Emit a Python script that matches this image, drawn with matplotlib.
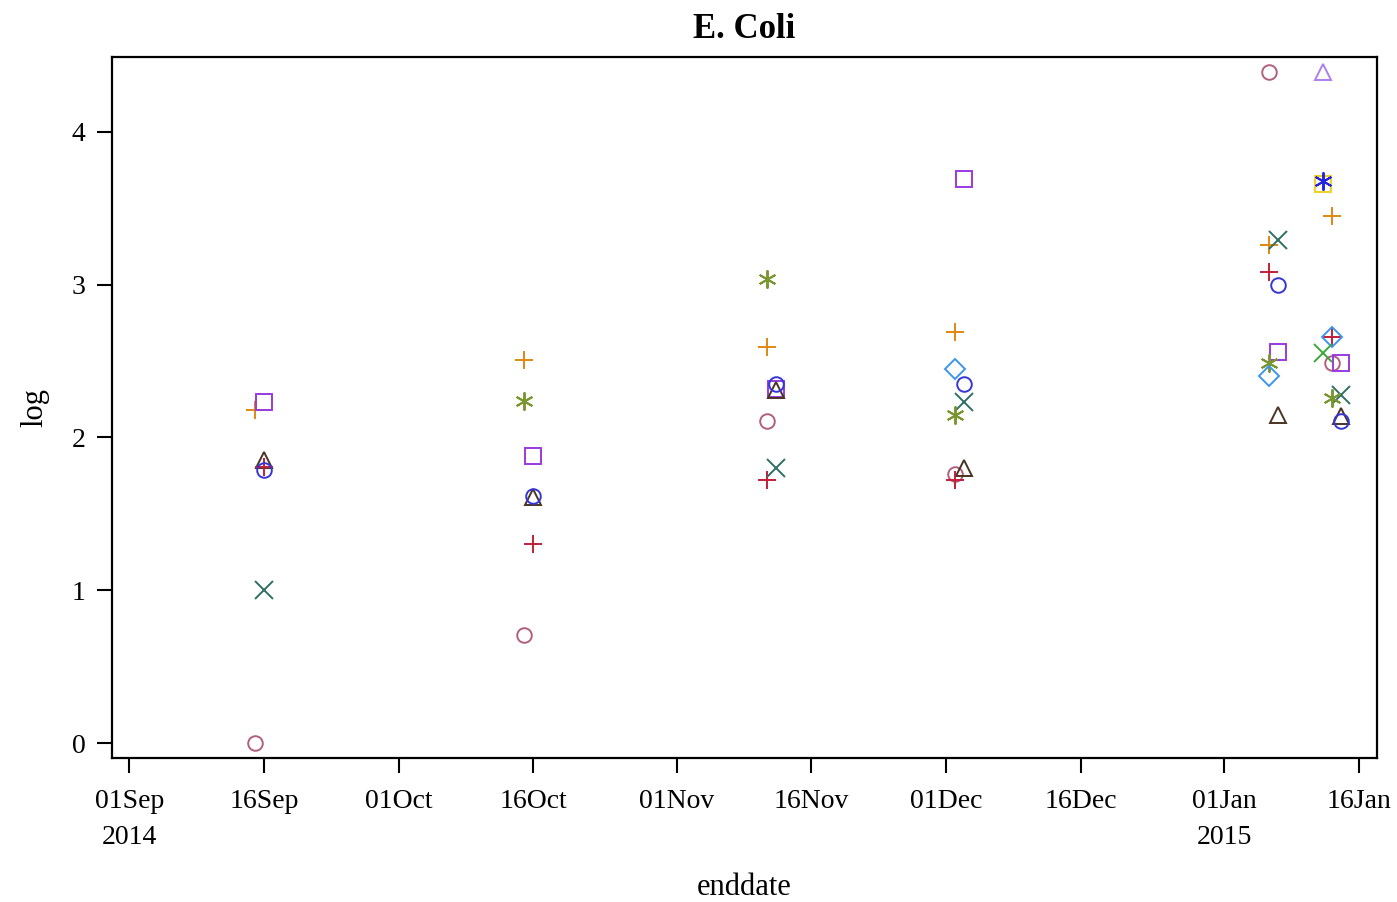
import matplotlib
matplotlib.use('Agg')
import matplotlib.pyplot as plt
import datetime as dt

plt.rc('font', family='Liberation Serif')

def d(s):
    return dt.datetime.strptime(s, '%Y-%m-%d')

# one entry per group (site)
mauve_dates = ['2014-09-15', '2014-10-15', '2014-11-11', '2014-12-02', '2015-01-06', '2015-01-13']
mauve_vals = [0.0, 0.71, 2.11, 1.76, 4.39, 2.49]
orange_dates = ['2014-09-15', '2014-10-15', '2014-11-11', '2014-12-02', '2015-01-06', '2015-01-13']
orange_vals = [2.18, 2.51, 2.59, 2.69, 3.26, 3.45]
purple_dates = ['2014-09-16', '2014-10-16', '2014-11-12', '2014-12-03', '2015-01-07', '2015-01-14']
purple_vals = [2.23, 1.88, 2.32, 3.69, 2.56, 2.49]
brown_dates = ['2014-09-16', '2014-10-16', '2014-11-12', '2014-12-03', '2015-01-07', '2015-01-14']
brown_vals = [1.85, 1.61, 2.31, 1.80, 2.15, 2.14]
red_dates = ['2014-09-16', '2014-10-16', '2014-11-11', '2014-12-02', '2015-01-06', '2015-01-13']
red_vals = [1.81, 1.30, 1.72, 1.72, 3.08, 2.66]
blue_dates = ['2014-09-16', '2014-10-16', '2014-11-12', '2014-12-03', '2015-01-07', '2015-01-14']
blue_vals = [1.79, 1.62, 2.35, 2.35, 3.00, 2.11]
teal_dates = ['2014-09-16', '2014-11-12', '2014-12-03', '2015-01-07', '2015-01-14']
teal_vals = [1.0, 1.80, 2.23, 3.29, 2.28]
olive_dates = ['2014-10-15', '2014-11-11', '2014-12-02', '2015-01-06', '2015-01-13']
olive_vals = [2.24, 3.04, 2.15, 2.49, 2.26]
ltblue_dates = ['2014-12-02', '2015-01-06', '2015-01-13']
ltblue_vals = [2.45, 2.40, 2.66]
yellow_dates = ['2015-01-12']
yellow_vals = [3.66]
bluestar_dates = ['2015-01-12']
bluestar_vals = [3.68]
ltpurple_dates = ['2015-01-12']
ltpurple_vals = [4.39]
green_dates = ['2015-01-12']
green_vals = [2.55]

tick_dates = ['2014-09-01', '2014-09-16', '2014-10-01', '2014-10-16', '2014-11-01',
              '2014-11-16', '2014-12-01', '2014-12-16', '2015-01-01', '2015-01-16']
tick_labels = ['01Sep\n2014', '16Sep', '01Oct', '16Oct', '01Nov',
               '16Nov', '01Dec', '16Dec', '01Jan\n2015', '16Jan']

asterisk = (6, 2, 0)
series = [
    (mauve_dates, mauve_vals, 'o', '#B0607E'),
    (orange_dates, orange_vals, '+', '#E0880F'),
    (purple_dates, purple_vals, 's', '#9A3AE0'),
    (brown_dates, brown_vals, '^', '#4A3322'),
    (red_dates, red_vals, '+', '#C41E3A'),
    (blue_dates, blue_vals, 'o', '#3636D8'),
    (teal_dates, teal_vals, 'x', '#2F6E62'),
    (olive_dates, olive_vals, asterisk, '#7A9630'),
    (ltblue_dates, ltblue_vals, 'D', '#3C96F0'),
    (yellow_dates, yellow_vals, 's', '#F0D020'),
    (bluestar_dates, bluestar_vals, asterisk, '#2424E0'),
    (ltpurple_dates, ltpurple_vals, '^', '#B07EF0'),
    (green_dates, green_vals, 'x', '#3AA83A'),
]

fig = plt.figure(figsize=(13.97, 9.02), dpi=100)
ax = fig.add_axes([0.0802, 0.1596, 0.9055, 0.7772])

for dates, vals, mk, col in series:
    xs = [d(s) for s in dates]
    if mk in ('+', 'x') or isinstance(mk, tuple):
        ax.plot(xs, vals, linestyle='none', marker=mk, markersize=13,
                markeredgewidth=1.4, color=col)
    else:
        size = {'o': 10.5, 's': 11, '^': 11, 'D': 10}[mk]
        ax.plot(xs, vals, linestyle='none', marker=mk, markersize=size,
                markeredgewidth=1.4, markerfacecolor='none', markeredgecolor=col)

ax.set_xlim(d('2014-08-30') + dt.timedelta(hours=2), d('2015-01-18'))
ax.set_ylim(-0.098, 4.49)
ax.set_xticks([d(s) for s in tick_dates])
ax.set_xticklabels(tick_labels, fontsize=20, linespacing=1.6)
ax.set_yticks([0, 1, 2, 3, 4])
ax.set_yticklabels(['0', '1', '2', '3', '4'], fontsize=20)
ax.tick_params(axis='x', direction='out', length=11, width=1.5, pad=11)
ax.tick_params(axis='y', direction='out', length=11, width=1.5, pad=8)

for sp in ax.spines.values():
    sp.set_linewidth(1.6)

ax.set_xlabel('enddate', fontsize=22, va='center')
ax.xaxis.set_label_coords(0.5, -0.184)
ax.set_ylabel('log', fontsize=22, labelpad=16)
ax.set_title('E. Coli', fontsize=25, fontweight='bold', pad=14)

plt.savefig('out.png', dpi=100)
